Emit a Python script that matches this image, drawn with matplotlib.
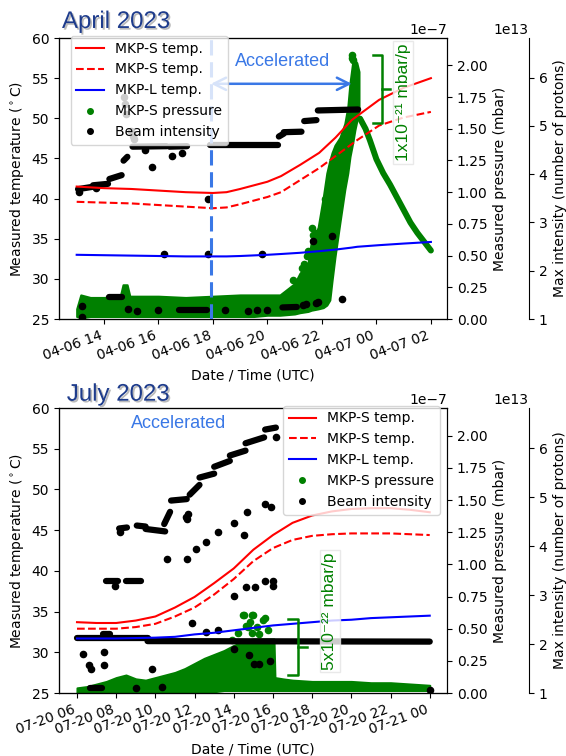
import numpy as np
import matplotlib
matplotlib.use("Agg")
import matplotlib.pyplot as plt
import matplotlib.dates as mdates
import matplotlib.patheffects as pe
from matplotlib.ticker import MultipleLocator
from matplotlib.lines import Line2D
from datetime import datetime, timedelta

""" April 2023 : times are hours counted from 2023-04-06 00:00 """
apr_day = datetime(2023, 4, 6)
apr_temp_t = [13.0, 14.0, 15.0, 16.0, 17.0, 18.0, 18.5, 19.0, 20.0, 20.5, 21.2, 21.9, 22.5, 23.1, 23.3, 24.1, 25.0, 26.0]
apr_mkps_1 = [41.5, 41.3, 41.2, 41.0, 40.8, 40.7, 40.8, 41.2, 42.1, 42.8, 44.2, 45.7, 47.6, 49.8, 50.3, 52.3, 53.8, 55.0]
apr_mkps_2 = [39.6, 39.5, 39.4, 39.2, 39.0, 38.8, 38.9, 39.3, 40.2, 40.8, 42.3, 43.8, 45.3, 46.8, 47.3, 49.1, 50.1, 50.8]
apr_mkpl = [33.0, 32.95, 32.9, 32.85, 32.8, 32.8, 32.8, 32.85, 33.0, 33.1, 33.25, 33.45, 33.65, 33.9, 34.0, 34.2, 34.4, 34.6]

# pressure cloud (1e-7 mbar): lower / upper edge of the dense band
apr_band_t = [13.0, 13.15, 13.5, 14.0, 14.6, 14.7, 14.85, 14.95, 16.0, 17.0, 18.0, 19.0, 19.5, 20.0, 20.46,
              21.0, 21.19, 21.49, 21.62, 21.86, 22.05, 22.18, 22.29, 22.37, 22.48, 22.66, 22.84, 22.95,
              23.03, 23.14, 23.21, 23.28, 23.36]
apr_band_lo = [0.02, 0.01, 0.02, 0.02, 0.02, 0.02, 0.02, 0.02, 0.02, 0.02, 0.02, 0.02, 0.02, 0.03, 0.03,
               0.04, 0.05, 0.06, 0.07, 0.08, 0.09, 0.11, 0.15, 0.30, 0.49, 0.76, 1.02, 1.15,
               1.28, 1.40, 1.49, 1.56, 1.65]
apr_band_hi = [0.08, 0.19, 0.17, 0.17, 0.18, 0.27, 0.27, 0.18, 0.18, 0.17, 0.18, 0.19, 0.19, 0.19, 0.19,
               0.28, 0.36, 0.44, 0.62, 0.72, 0.96, 1.15, 1.25, 1.31, 1.37, 1.43, 1.54, 1.67,
               1.86, 2.04, 2.04, 2.02, 1.95]
# pump-down after the peak
apr_decay_t = [23.4, 23.6, 23.76, 24.0, 24.25, 24.5, 24.75, 25.0, 25.25, 25.5, 25.75, 26.0]
apr_decay_p = [1.58, 1.50, 1.41, 1.26, 1.15, 1.06, 0.96, 0.86, 0.76, 0.68, 0.61, 0.54]
apr_press_pts_t = [20.95, 21.27, 21.35, 21.45, 21.5, 21.63, 21.67, 21.75, 21.8, 22.1, 22.15, 23.1, 23.12, 23.15]
apr_press_pts_p = [0.31, 0.40, 0.43, 0.50, 0.54, 0.72, 0.66, 0.68, 0.58, 0.95, 0.88, 2.06, 2.08, 2.04]

# beam intensity (1e13 protons): dense runs (t start, t end, value start, value end)
apr_beam_runs = [(13.05, 13.6, 3.69, 3.74), (13.6, 14.15, 3.77, 3.80), (14.2, 14.65, 3.90, 3.98),
                 (14.72, 14.86, 4.28, 4.36), (15.05, 16.3, 4.57, 4.58), (16.4, 17.05, 4.57, 4.58),
                 (17.9, 20.4, 4.60, 4.60), (20.42, 20.6, 4.78, 4.84), (20.6, 21.25, 4.87, 4.88),
                 (21.35, 21.8, 5.10, 5.12), (21.85, 23.33, 5.32, 5.34),
                 (14.2, 14.65, 1.45, 1.45), (16.75, 17.8, 1.18, 1.18), (20.55, 21.08, 1.24, 1.25)]
apr_beam_t = [13.1, 13.18, 13.2, 13.7, 14.75, 14.78, 14.8, 14.87, 15.0, 15.05, 15.1, 15.2, 15.5, 15.75,
              16.0, 16.2, 16.5, 16.86, 17.82, 17.82, 18.45, 19.28, 19.6, 19.8, 20.0, 21.3, 21.4,
              21.67, 21.78, 21.85, 22.37, 22.75]
apr_beam_v = [3.64, 1.27, 1.05, 3.72, 5.60, 5.45, 5.25, 1.21, 4.90, 4.80, 4.72, 1.17, 4.50, 4.15,
              1.18, 2.34, 4.38, 4.44, 3.49, 2.34, 1.18, 1.16, 1.18, 2.34, 1.18, 1.30, 1.31,
              2.62, 1.33, 1.36, 2.71, 1.42]
apr_acc_start = 17.93
apr_acc_end = 23.1

""" July 2023 : times are hours counted from 2023-07-20 00:00 """
jul_day = datetime(2023, 7, 20)
jul_temp_t = [6, 7, 8, 9, 10, 11, 12, 13, 14, 15, 16, 17, 18, 19, 20, 21, 22, 23, 24]
jul_mkps_1 = [33.7, 33.6, 33.6, 33.9, 34.4, 35.5, 36.8, 38.5, 40.3, 42.6, 44.4, 45.9, 46.8, 47.3, 47.6, 47.7, 47.7, 47.5, 47.2]
jul_mkps_2 = [32.9, 32.9, 32.9, 33.1, 33.5, 34.4, 35.5, 37.1, 39.0, 41.2, 42.8, 43.8, 44.3, 44.5, 44.6, 44.6, 44.6, 44.5, 44.4]
jul_mkpl = [31.7, 31.7, 31.7, 31.75, 31.8, 31.9, 32.2, 32.4, 32.7, 33.0, 33.3, 33.5, 33.7, 33.9, 34.0, 34.2, 34.3, 34.4, 34.5]

jul_band_t = [6.0, 6.5, 7.0, 7.5, 8.0, 8.5, 9.0, 9.5, 10.0, 10.5, 11.0, 11.5, 12.0, 12.5, 13.0, 13.5,
              14.0, 14.5, 15.0, 15.5, 16.05, 16.1, 16.5, 17.0, 18.0, 19.0, 20.0, 21.0, 22.0, 23.0, 24.0]
jul_band_lo = [0.00, 0.00, 0.00, 0.00, 0.00, 0.00, 0.00, 0.00, 0.00, 0.00, 0.00, 0.00, 0.01, 0.01, 0.01, 0.02,
               0.02, 0.02, 0.02, 0.02, 0.02, 0.02, 0.02, 0.02, 0.02, 0.02, 0.02, 0.02, 0.02, 0.02, 0.02]
jul_band_hi = [0.04, 0.05, 0.07, 0.09, 0.12, 0.14, 0.11, 0.10, 0.12, 0.14, 0.16, 0.19, 0.23, 0.27, 0.30, 0.33,
               0.37, 0.40, 0.42, 0.42, 0.42, 0.12, 0.11, 0.10, 0.09, 0.09, 0.09, 0.08, 0.08, 0.07, 0.06]
jul_press_pts_t = [13.9, 14.2, 14.47, 14.52, 14.6, 14.75, 14.85, 14.93, 14.95, 15.0, 15.2, 15.3, 15.5, 15.6, 15.75]
jul_press_pts_p = [0.41, 0.47, 0.61, 0.61, 0.52, 0.51, 0.55, 0.61, 0.47, 0.61, 0.51, 0.46, 0.57, 0.58, 0.49]

jul_beam_runs = [(6.0, 9.6, 2.12, 2.12), (9.6, 24.0, 2.06, 2.05), (6.65, 7.3, 1.11, 1.11),
                 (7.35, 7.7, 2.21, 2.21), (7.5, 8.1, 3.28, 3.28), (8.5, 9.25, 3.28, 3.28),
                 (8.15, 8.55, 4.36, 4.38), (9.05, 9.5, 4.42, 4.40), (9.5, 10.5, 4.35, 4.30),
                 (10.45, 10.75, 4.45, 4.70), (10.8, 11.6, 4.93, 4.96), (11.75, 12.25, 5.05, 5.25),
                 (12.25, 13.0, 5.40, 5.48), (13.0, 13.8, 5.62, 5.74), (13.8, 14.6, 5.85, 5.95),
                 (14.6, 15.55, 6.10, 6.22), (15.6, 16.15, 6.38, 6.42)]
jul_beam_t = [6.3, 6.6, 6.7, 7.4, 7.4, 7.95, 8.2, 9.0, 9.85, 10.35, 10.6, 11.55, 11.6, 11.62, 11.68, 11.85,
              12.05, 12.6, 12.6, 13.2, 13.2, 14.0, 14.0, 14.0, 14.5, 14.6, 14.7, 14.8, 15.05, 15.1, 15.3,
              15.6, 15.6, 15.85, 15.9, 16.0, 16.0, 16.15, 24.0]
jul_beam_v = [1.80, 1.57, 1.50, 1.83, 1.58, 3.19, 4.28, 1.11, 1.50, 1.13, 3.74, 4.60, 3.74, 4.55, 4.65, 2.43,
              3.94, 2.25, 4.09, 2.28, 4.29, 2.99, 4.47, 1.90, 4.22, 3.16, 4.69, 1.78, 1.60, 3.16, 1.60,
              4.87, 3.28, 1.66, 4.79, 3.28, 3.19, 6.22, 1.07]

ACC_BLUE = "#3a78e6"
TITLE_BLUE = "#1e3c8c"
ARIAL = ["Liberation Sans", "DejaVu Sans"]


def to_dt(day, hours):
    return [day + timedelta(hours=float(h)) for h in hours]


def panel(rect, day, xlim, temp_t, s1, s2, l1, band_t, band_lo, band_hi, pp_t, pp_p,
          runs, bt, bv, legend_loc, legend_anchor):
    ax = fig.add_axes(rect)
    ax2 = ax.twinx()
    ax3 = ax.twinx()
    ax3.spines["right"].set_position(("axes", 1.211))
    # pressure at the back, then beam intensity, temperatures in front
    ax.set_zorder(3)
    ax3.set_zorder(2)
    ax2.set_zorder(1)
    ax.patch.set_visible(False)
    ax3.patch.set_visible(False)

    ax2.fill_between(to_dt(day, band_t), np.array(band_lo) * 1e-7, np.array(band_hi) * 1e-7,
                     color="green", lw=1.5)
    ax2.scatter(to_dt(day, pp_t), np.array(pp_p) * 1e-7, s=20, color="green")

    for t0, t1, v0, v1 in runs:
        ax3.plot(to_dt(day, [t0, t1]), [v0 * 1e13, v1 * 1e13], color="k", lw=4.5,
                 solid_capstyle="round")
    ax3.scatter(to_dt(day, bt), np.array(bv) * 1e13, s=20, color="k")

    tt = to_dt(day, temp_t)
    h1, = ax.plot(tt, s1, color="red", lw=1.5)
    h2, = ax.plot(tt, s2, color="red", ls="--", lw=1.5)
    h3, = ax.plot(tt, l1, color="blue", lw=1.5)

    ax.set_ylim(25, 60)
    ax2.set_ylim(0, 2.215e-7)
    ax3.set_ylim(1e13, 6.82e13)
    ax2.yaxis.set_major_locator(MultipleLocator(0.25e-7))
    ax3.yaxis.set_major_locator(MultipleLocator(1e13))
    ax3.yaxis.get_offset_text().set_x(1.211)
    ax.set_xlim(to_dt(day, xlim))
    ax.xaxis.set_major_locator(mdates.HourLocator(byhour=range(0, 24, 2)))
    ax.xaxis.set_major_formatter(mdates.DateFormatter("%m-%d %H"))
    for lab in ax.get_xticklabels():
        lab.set_rotation(20)
        lab.set_ha("right")

    ax.set_xlabel("Date / Time (UTC)")
    ax.set_ylabel(r"Measured temperature ($^\circ$C)")
    ax2.set_ylabel("Measured pressure (mbar)")
    ax3.set_ylabel("Max intensity (number of protons)")

    hp = Line2D([], [], ls="none", marker="o", ms=4, color="green")
    hb = Line2D([], [], ls="none", marker="o", ms=4, color="k")
    ax.legend([h1, h2, h3, hp, hb],
              ["MKP-S temp.", "MKP-S temp.", "MKP-L temp.", "MKP-S pressure", "Beam intensity"],
              loc=legend_loc, bbox_to_anchor=legend_anchor)
    return ax, ax2, ax3


def bracket(ax, x0, x1, x2, ytop, ybot, ymid):
    ax.plot([x0, x1, x1, x0], [ytop, ytop, ybot, ybot], color="green", lw=1.8,
            transform=ax.transAxes, clip_on=False, zorder=10)
    ax.plot([x1, x2], [ymid, ymid], color="green", lw=1.8,
            transform=ax.transAxes, clip_on=False, zorder=10)


def rate_label(ax, x, y, txt):
    ax.text(x, y, txt, transform=ax.transAxes, rotation=90, ha="center", va="center",
            color="green", fontsize=12.5, family=ARIAL, zorder=11,
            bbox=dict(boxstyle="square,pad=0.15", facecolor="white", edgecolor="#e4e4e4",
                      alpha=0.8))


def title(x, y, txt):
    fig.text(x, y, txt, color=TITLE_BLUE, fontsize=17.3, family=ARIAL, va="baseline",
             path_effects=[pe.withSimplePatchShadow(offset=(1.2, -1.2), shadow_rgbFace="#8c8c8c",
                                                    alpha=0.6)])


fig = plt.figure(figsize=(5.66, 7.56), dpi=100)

# ---------------- April ----------------
ax_a, ax_a2, ax_a3 = panel([0.1042, 0.578, 0.6855, 0.3717], apr_day, [12.35, 26.59], apr_temp_t,
                           apr_mkps_1, apr_mkps_2, apr_mkpl, apr_band_t, apr_band_lo, apr_band_hi,
                           apr_press_pts_t, apr_press_pts_p, apr_beam_runs, apr_beam_t, apr_beam_v,
                           "upper left", (0.012, 1.032))
ax_a2.plot(to_dt(apr_day, apr_decay_t), np.array(apr_decay_p) * 1e-7, color="green", lw=4.3,
           solid_capstyle="round")

acc0 = to_dt(apr_day, [apr_acc_start])[0]
acc1 = to_dt(apr_day, [apr_acc_end])[0]
ax_a.axvline(acc0, color=ACC_BLUE, ls=(0, (5, 2.2)), lw=2.2, zorder=5)
ax_a.annotate("", xy=(acc1, 54.3), xytext=(acc0, 54.3),
              arrowprops=dict(arrowstyle="<->", color=ACC_BLUE, lw=1.8, mutation_scale=22,
                              shrinkA=0, shrinkB=0))
ax_a.text(0.577, 0.918, "Accelerated", transform=ax_a.transAxes, ha="center", va="center",
          color=ACC_BLUE, fontsize=13, family=ARIAL)
bracket(ax_a, 0.809, 0.8325, 0.853, 0.9395, 0.6975, 0.8185)
rate_label(ax_a, 0.887, 0.770, "1x10⁻²¹ mbar/p")
title(0.1095, 0.963, "April 2023")

# ---------------- July ----------------
ax_j, ax_j2, ax_j3 = panel([0.1042, 0.0833, 0.6855, 0.377], jul_day, [5.08, 24.88], jul_temp_t,
                           jul_mkps_1, jul_mkps_2, jul_mkpl, jul_band_t, jul_band_lo, jul_band_hi,
                           jul_press_pts_t, jul_press_pts_p, jul_beam_runs, jul_beam_t, jul_beam_v,
                           "upper right", (1.0, 1.032))
ax_j.text(0.309, 0.947, "Accelerated", transform=ax_j.transAxes, ha="center", va="center",
          color=ACC_BLUE, fontsize=13, family=ARIAL)
bracket(ax_j, 0.590, 0.616, 0.639, 0.2596, 0.0632, 0.1614)
rate_label(ax_j, 0.698, 0.2877, "5x10⁻²² mbar/p")
title(0.118, 0.470, "July 2023")

plt.savefig("out.png", dpi=100)
